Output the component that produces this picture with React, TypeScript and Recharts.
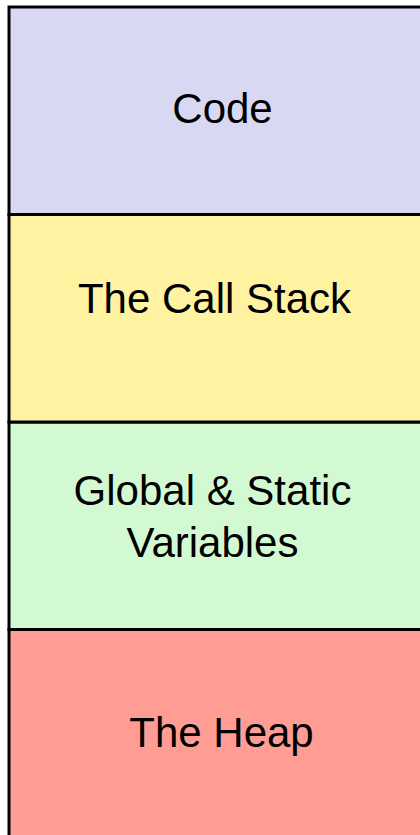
import { Bar, BarChart, LabelList, XAxis, YAxis } from "recharts";

// memory regions, bottom of the stack first
const REGIONS = ["heap", "globals", "stack", "code"];
const REGION_LABELS = [["The Heap"], ["Global & Static", "Variables"], ["The Call Stack"], ["Code"]];
const REGION_SIZES = [1, 1, 1, 1];

const FILLS = ["#ff9c94", "#d3f9d3", "#fff2a1", "#d8d8f3"];
// nudges from the middle of each box (baseline of the first line)
const LABEL_DX = [5, -4, -2, 6];
const LABEL_DY = [14, -21, -5, 12];
const LINE_HEIGHT = 52;

const row: Record<string, string | number> = { name: "memory" };
REGIONS.forEach((k, i) => {
  row[k] = REGION_SIZES[i];
});
const data = [row];

function regionLabel(i: number) {
  return (props: any) => {
    const { x, y, width, height } = props;
    const cx = Number(x) + Number(width) / 2 + LABEL_DX[i];
    const cy = Number(y) + Number(height) / 2 + LABEL_DY[i];
    return (
      <text x={cx} textAnchor="middle" fontFamily="'Liberation Sans', Arial, sans-serif" fontSize={42} fill="#000">
        {REGION_LABELS[i].map((line, j) => (
          <tspan key={j} x={cx} y={cy + j * LINE_HEIGHT}>{line}</tspan>
        ))}
      </text>
    );
  };
}

export default function App() {
  return (
    <div style={{ position: "fixed", left: 0, top: 0, width: 420, height: 835, overflow: "hidden", background: "#fff" }}>
      <BarChart width={424} height={837} data={data} margin={{ top: 7, right: 0, bottom: 0, left: 9 }} barCategoryGap={0} barGap={0}>
        <XAxis dataKey="name" hide />
        <YAxis hide domain={[0, 4]} />
        {REGIONS.map((k, i) => (
          <Bar key={k} dataKey={k} stackId="mem" fill={FILLS[i]} stroke="#000" strokeWidth={3} isAnimationActive={false}>
            <LabelList dataKey={k} content={regionLabel(i)} />
          </Bar>
        ))}
      </BarChart>
    </div>
  );
}
